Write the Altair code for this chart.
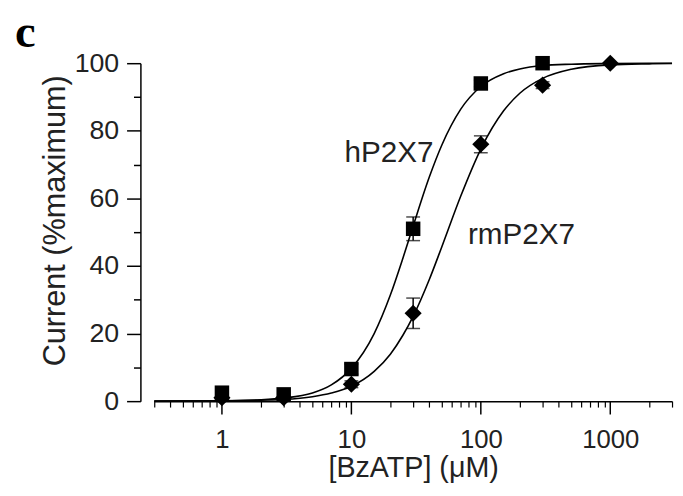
import altair as alt
import pandas as pd

# ---- data ----
h_conc = [1, 3, 10, 30, 100, 300]
h_mean = [2.5, 2.0, 9.5, 51.0, 94.0, 100.0]
h_err = [0.0, 0.0, 1.5, 3.5, 1.0, 0.0]

rm_conc = [1, 3, 10, 30, 100, 300, 1000]
rm_mean = [1.0, 1.0, 5.0, 26.0, 76.0, 93.5, 100.0]
rm_err = [0.0, 0.0, 1.0, 4.5, 2.5, 1.0, 0.0]

# fitted curves, values
curve_x = [0.3, 1, 2, 3, 5, 7, 10, 15, 20, 25, 30, 40, 50, 70, 100, 150, 200, 300, 500, 1000, 2000, 3000]
h_curve = [0.0, 0.1, 0.4, 0.9, 2.4, 4.8, 9.7, 20.0, 31.4, 42.3, 51.8, 66.3, 75.8, 86.4, 93.1, 96.9, 98.3, 99.3, 99.7, 99.9, 100.0, 100.0]
rm_curve = [0.0, 0.1, 0.3, 0.5, 1.3, 2.4, 4.4, 8.8, 13.9, 19.5, 25.1, 36.0, 45.7, 60.7, 74.6, 85.9, 91.1, 95.5, 98.2, 99.5, 99.8, 99.9]

label_text = ["hP2X7", "rmP2X7"]
label_x = [19.5, 206]
label_y = [73.5, 49.0]

x_major = [1, 10, 100, 1000]
x_minor = [0.3, 0.4, 0.5, 0.6, 0.7, 0.8, 0.9, 2, 3, 4, 5, 6, 7, 8, 9,
           20, 30, 40, 50, 60, 70, 80, 90, 200, 300, 400, 500, 600, 700, 800, 900, 2000, 3000]
y_major = [0, 20, 40, 60, 80, 100]
y_minor = [10, 30, 50, 70, 90]

# ---- tables ----
n = len(curve_x)
curve_df = pd.DataFrame({
    "conc": curve_x + curve_x,
    "pct": h_curve + rm_curve,
    "receptor": ["hP2X7"] * n + ["rmP2X7"] * n,
})
h_df = pd.DataFrame({"conc": h_conc, "pct": h_mean,
                     "lo": [m - e for m, e in zip(h_mean, h_err)],
                     "hi": [m + e for m, e in zip(h_mean, h_err)]})
rm_df = pd.DataFrame({"conc": rm_conc, "pct": rm_mean,
                      "lo": [m - e for m, e in zip(rm_mean, rm_err)],
                      "hi": [m + e for m, e in zip(rm_mean, rm_err)]})
err_df = pd.concat([h_df[h_df.lo < h_df.hi], rm_df[rm_df.lo < rm_df.hi]], ignore_index=True)
lab_df = pd.DataFrame({"text": label_text, "conc": label_x, "pct": label_y})

FONT = "Liberation Sans"
xs = alt.Scale(type="log", domain=[0.3, 3000], nice=False)
ys = alt.Scale(domain=[0, 100], nice=False, zero=True)

x_main_axis = alt.Axis(values=x_major, format="d", orient="bottom", tickSize=13, tickWidth=1.5,
                       domainWidth=1.5, domainColor="black", tickColor="black",
                       labelFontSize=26, labelColor="#222", labelPadding=13, labelFlush=False,
                       titleFontSize=29, titleFontWeight="normal", titleColor="#222",
                       titlePadding=1, grid=False)
y_main_axis = alt.Axis(values=y_major, orient="left", offset=14, tickSize=14, tickWidth=1.5,
                       domainWidth=1.5, domainColor="black", tickColor="black",
                       labelFontSize=27, labelColor="#222", labelPadding=8,
                       titleFontSize=31, titleFontWeight="normal", titleColor="#222",
                       titlePadding=3, titleY=159, grid=False)
x_minor_axis = alt.Axis(values=x_minor, orient="bottom", tickSize=6, tickWidth=1.2,
                        tickColor="black", labels=False, domain=False, grid=False)
y_minor_axis = alt.Axis(values=y_minor, orient="left", offset=14, tickSize=7, tickWidth=1.5,
                        tickColor="black", labels=False, domain=False, grid=False)

curves = alt.Chart(curve_df).mark_line(color="black", strokeWidth=1.6, interpolate="monotone").encode(
    x=alt.X("conc:Q", scale=xs, axis=x_main_axis, title="[BzATP] (μM)"),
    y=alt.Y("pct:Q", scale=ys, axis=y_main_axis, title="Current (%maximum)"),
    detail="receptor:N",
)

err_rule = alt.Chart(err_df).mark_rule(color="black", strokeWidth=1.5).encode(
    x=alt.X("conc:Q", scale=xs, axis=None),
    y=alt.Y("lo:Q", scale=ys, axis=None),
    y2="hi:Q",
)
cap_lo = alt.Chart(err_df).mark_tick(color="black", orient="horizontal", size=14, thickness=1.5).encode(
    x=alt.X("conc:Q", scale=xs, axis=None),
    y=alt.Y("lo:Q", scale=ys, axis=None),
)
cap_hi = alt.Chart(err_df).mark_tick(color="black", orient="horizontal", size=14, thickness=1.5).encode(
    x=alt.X("conc:Q", scale=xs, axis=None),
    y=alt.Y("hi:Q", scale=ys, axis=None),
)

rm_pts = alt.Chart(rm_df).mark_point(shape="diamond", filled=True, color="black", size=300, opacity=1).encode(
    x=alt.X("conc:Q", scale=xs, axis=x_minor_axis, title=None),
    y=alt.Y("pct:Q", scale=ys, axis=y_minor_axis, title=None),
)
h_pts = alt.Chart(h_df).mark_point(shape="square", filled=True, color="black", size=215, opacity=1).encode(
    x=alt.X("conc:Q", scale=xs, axis=None),
    y=alt.Y("pct:Q", scale=ys, axis=None),
)

labels = alt.Chart(lab_df).mark_text(font=FONT, fontSize=30, color="#222", align="center", baseline="middle").encode(
    x=alt.X("conc:Q", scale=xs, axis=None),
    y=alt.Y("pct:Q", scale=ys, axis=None),
    text="text:N",
)

chart = alt.layer(curves, err_rule, cap_lo, cap_hi, rm_pts, h_pts, labels).resolve_axis(
    x="independent", y="independent"
).properties(
    width=524,
    height=342,
    title=alt.TitleParams("c", anchor="start", frame="group", font="Liberation Serif",
                          fontSize=47, fontWeight="bold", color="black",
                          baseline="alphabetic", offset=19, dx=-141, dy=64),
    autosize=alt.AutoSizeParams(type="none"),
    padding={"left": 148, "top": 53, "right": 3, "bottom": 82},
    background="white",
).configure_view(stroke=None).configure_axis(labelFont=FONT, titleFont=FONT)

chart.save("out.html", embed_options={"renderer": "svg", "actions": False})
